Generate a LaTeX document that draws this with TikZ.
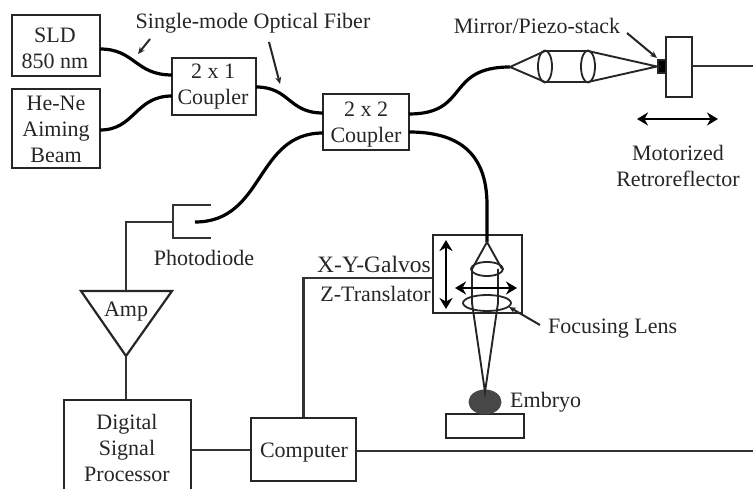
\documentclass[tikz,border=0pt]{standalone}
\usepackage{fontspec}
\setmainfont{Liberation Serif}
\usetikzlibrary{arrows.meta,shapes.geometric}
\tikzset{
  x=1pt,y=-1pt,
  lbl/.style={font=\fontsize{22}{26}\selectfont,text=black!85,align=center,inner sep=0pt},
  box/.style={draw=black!85,line width=2.2pt,fill=white,inner sep=0pt},
  fiber/.style={draw=black,line width=3.2pt},
  wire/.style={draw=black!80,line width=2.2pt},
  thin beam/.style={draw=black!85,line width=1.9pt},
  lens/.style={draw=black!85,line width=1.8pt,fill=none,ellipse,inner sep=0pt},
  leader/.style={draw=black!85,line width=2pt,-{Stealth[length=7pt,width=6pt]}},
  dbl/.style={draw=black,line width=2pt,{Stealth[length=11pt,width=13pt]}-{Stealth[length=11pt,width=13pt]}},
}
\begin{document}
\begin{tikzpicture}
\useasboundingbox (0,0) rectangle (753,489);
\clip (0,0) rectangle (753,489);
% boxes
\node[box,minimum width=88pt,minimum height=61pt] (sld) at (56,45.5) {};
\node[box,minimum width=88pt,minimum height=79pt] (hene) at (56,128.5) {};
\node[box,minimum width=84pt,minimum height=57pt] (c21) at (214,86.5) {};
\node[box,minimum width=86pt,minimum height=56pt] (c22) at (366,122) {};
\node[box,minimum width=26pt,minimum height=60pt] (retro) at (679,67) {};
\node[box,minimum width=89pt,minimum height=78pt] (galvo) at (477.5,274) {};
\node[box,minimum width=78pt,minimum height=24pt] (table) at (485,426) {};
\node[box,minimum width=127pt,minimum height=120pt] (dsp) at (127.5,460) {};
\node[box,minimum width=105pt,minimum height=63pt] (comp) at (303.5,449.5) {};
\node[box,minimum width=8pt,minimum height=13pt,fill=black] (mirror) at (662,66.5) {};
\node[draw=none,fill=black!72,ellipse,minimum width=33pt,minimum height=25pt,inner sep=0pt] (embryo) at (485,402) {};
% amp
\coordinate (ampTop) at (126,291);
\coordinate (ampTip) at (126,356);
\path[draw=black!85,line width=2.2pt,line join=miter] (81,291) -- (172,291) -- (ampTip) -- cycle;
% photodiode
\coordinate (pdTop) at (211,205);
\coordinate (pdBot) at (211,238);
\coordinate (pdBack) at (173,222);
\coordinate (pdFiber) at (195,222);
\draw[wire] (pdTop) -- (173,205) -- (173,238) -- (pdBot);
% fibres
\coordinate (sldOut) at (100,49);
\coordinate (c21a) at (172,75);
\coordinate (heneOut) at (100,130);
\coordinate (c21b) at (172,96);
\coordinate (c21o) at (256,87);
\coordinate (c22a) at (323,113);
\coordinate (c22b) at (323,133);
\coordinate (c22c) at (409,114);
\coordinate (c22d) at (409,132);
\coordinate (tip1) at (510,67);
\coordinate (tip2) at (487,242);
\draw[fiber] (sldOut) .. controls (135,49) and (135,75) .. (c21a);
\draw[fiber] (heneOut) .. controls (135,130) and (135,96) .. (c21b);
\draw[fiber] (c21o) .. controls (290,87) and (288,113) .. (c22a);
\draw[fiber] (c22b) .. controls (255,133) and (265,222) .. (pdFiber);
\draw[fiber] (c22c) .. controls (470,114) and (445,67) .. (tip1);
\draw[fiber] (c22d) .. controls (455,132) and (487,150) .. (487,205) -- (tip2);
% wires
\draw[wire] (pdBack) -- (126,222) -- (ampTop);
\draw[wire] (ampTip) -- (dsp.north -| ampTip);
\draw[wire] (dsp.east |- 0,450) -- (comp.west |- 0,450);
\draw[wire] (comp.east |- 0,451) -- (753,451);
\draw[wire] (retro.east |- 0,66) -- (753,66);
\draw[wire] (comp.north) -- (303.5,278) -- (galvo.west |- 0,278);
% upper optics
\coordinate (l1t) at (545,51); \coordinate (l1b) at (545,82);
\coordinate (l2t) at (588,51); \coordinate (l2b) at (588,82);
\draw[thin beam] (l2t) -- (mirror.west) -- (l2b) -- (l1b) -- (tip1) -- (l1t) -- cycle;
\node[lens,draw,minimum width=14pt,minimum height=32pt] (lensA) at (545,66.5) {};
\node[lens,draw,minimum width=14pt,minimum height=32pt] (lensB) at (588,66.5) {};
% lower optics
\draw[thin beam] (472,269) -- (tip2) -- (502,269);
\draw[thin beam] (472,269) -- (472,303) -- (485,392) -- (498,303) -- (498,269);
\node[lens,draw,minimum width=32pt,minimum height=14pt] (lensC) at (487,269) {};
\node[lens,draw,minimum width=48pt,minimum height=16pt] (lensD) at (487,303) {};
\coordinate (va) at (446,240); \coordinate (vb) at (446,309);
\coordinate (ha) at (455,288); \coordinate (hb) at (517,288);
\draw[dbl] (va) -- (vb);
\draw[dbl] (ha) -- (hb);
\coordinate (ma) at (637,119); \coordinate (mb) at (718,119);
\draw[dbl] (ma) -- (mb);
% leaders
\coordinate (t1) at (150,39); \coordinate (h1) at (138,54);
\coordinate (t2) at (269,42); \coordinate (h2) at (280,84);
\coordinate (t3) at (627,33); \coordinate (h3) at (657,58);
\coordinate (t4) at (540,325); \coordinate (h4) at (509,307);
\draw[leader] (t1) -- (h1);
\draw[leader] (t2) -- (h2);
\draw[leader] (t3) -- (h3);
\draw[leader] (t4) -- (h4);
% labels
\node[lbl] (tsld) at (55,48) {SLD\\850 nm};
\node[lbl] (thene) at (56,129) {He-Ne\\Aiming\\Beam};
\node[lbl] (tc21) at (213,87) {2 x 1\\Coupler};
\node[lbl] (tc22) at (366,125) {2 x 2\\Coupler};
\node[lbl] (tfib) at (253,23) {Single-mode Optical Fiber};
\node[lbl] (tmir) at (537,26) {Mirror/Piezo-stack};
\node[lbl] (tret) at (678,166) {Motorized\\Retroreflector};
\node[lbl] (tpd) at (204,258) {Photodiode};
\node[lbl] (tamp) at (126,312) {Amp};
\node[lbl] (tdsp) at (127,448) {Digital\\Signal\\Processor};
\node[lbl] (tcomp) at (304,453) {Computer};
\node[lbl,anchor=east,font=\fontsize{23.5}{26}\selectfont] (tgal) at (431,264) {X-Y-Galvos};
\node[lbl,anchor=east] (tzt) at (431,294) {Z-Translator};
\node[lbl,anchor=west] (tfoc) at (548,329) {Focusing Lens};
\node[lbl,anchor=west] (temb) at (510,402) {Embryo};
\end{tikzpicture}
\end{document}
